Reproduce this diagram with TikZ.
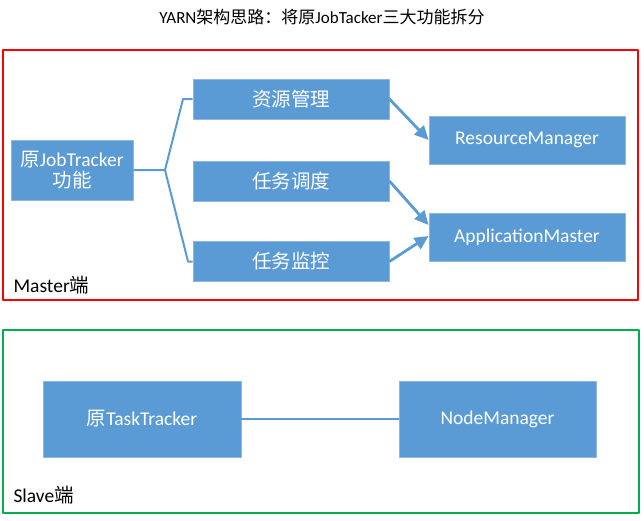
\documentclass[tikz,border=0pt]{standalone}
\usepackage{fontspec}
\setmainfont{Carlito}
\newfontfamily\cjk{Noto Sans CJK SC}
\usetikzlibrary{arrows.meta}
\definecolor{boxblue}{HTML}{5B9BD5}
\definecolor{boxedge}{HTML}{8FB6E0}
\definecolor{masterred}{HTML}{FF0000}
\definecolor{slavegreen}{HTML}{00B050}
\begin{document}
\begin{tikzpicture}[x=1pt, y=-1pt, line join=round, >={Triangle[length=14pt,width=13pt]},
  font=\fontsize{19.5}{23}\selectfont,
  blok/.style={draw=boxedge, line width=0.8pt, fill=boxblue, text=white, align=center, inner sep=0pt},
  link/.style={draw=boxblue, line width=2pt}]
\useasboundingbox (0,0) rectangle (644,520);
% title
\node[font=\fontsize{17}{20}\selectfont] (title) at (322,17) {YARN{\cjk 架构思路：将原}JobTacker{\cjk 三大功能拆分}};
% master side
\draw[masterred, line width=2pt] (3,50) rectangle (638,300);
\node[anchor=west] (master) at (10,285) {Master{\cjk 端}};
\node[blok, minimum width=122pt, minimum height=60pt] (jt) at (72,170) {{\cjk 原}JobTracker\\[-2pt]{\cjk 功能}};
\node[blok, minimum width=196pt, minimum height=40pt] (res) at (291,99) {\cjk 资源管理};
\node[blok, minimum width=196pt, minimum height=40pt] (sch) at (291,181) {\cjk 任务调度};
\node[blok, minimum width=196pt, minimum height=40pt] (mon) at (291,261.5) {\cjk 任务监控};
\node[blok, minimum width=196pt, minimum height=48pt] (rm) at (527,140) {ResourceManager};
\node[blok, minimum width=196pt, minimum height=48pt] (am) at (527,237) {ApplicationMaster};
\coordinate (fork) at (165,170);
\coordinate (forkup) at (183,99);
\coordinate (forkdn) at (188,261.5);
\draw[link] (jt.east) -- (fork) -- (forkup) -- (res.west);
\draw[link] (fork) -- (forkdn) -- (mon.west);
\draw[link, line width=2.8pt, ->] (res.east) -- (rm.west);
\draw[link, line width=2.8pt, ->] (sch.east) -- ([yshift=12pt]am.west);
\draw[link, line width=2.8pt, ->] (mon.east) -- ([yshift=1pt]am.west);
% slave side
\draw[slavegreen, line width=2pt] (3,330) rectangle (639,513);
\node[anchor=west] (slave) at (10,495) {Slave{\cjk 端}};
\node[blok, minimum width=198pt, minimum height=76pt] (tt) at (142,419) {{\cjk 原}TaskTracker};
\node[blok, minimum width=197pt, minimum height=76pt] (nm) at (497.5,419) {NodeManager};
\draw[link, line width=2.5pt] (tt.east) -- (nm.west);
\end{tikzpicture}
\end{document}
